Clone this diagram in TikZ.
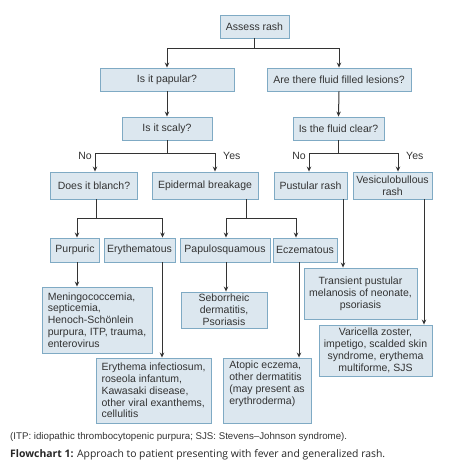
\documentclass[tikz,border=0pt]{standalone}
\usepackage{fontspec}
\setmainfont{Liberation Sans}
\newfontfamily\capfont{Open Sans}
\usetikzlibrary{arrows.meta}
\definecolor{boxfill}{HTML}{DCE7EF}
\definecolor{boxline}{HTML}{7FAAC4}
\definecolor{txt}{HTML}{333333}
\tikzset{
  box/.style={draw=boxline, fill=boxfill, line width=0.9pt, text=txt,
    font=\fontsize{10.5}{11.8}\selectfont, inner xsep=3pt, inner ysep=2pt},
  arr/.style={draw=txt, line width=1pt, -{Stealth[length=5pt,width=4.5pt]}},
  lab/.style={text=txt, font=\fontsize{10.5}{12}\selectfont, inner sep=0pt}
}

\begin{document}
\begin{tikzpicture}[x=1pt,y=-1pt]
                \useasboundingbox (0,0) rectangle (474,466);

                \node[box, minimum width=69, minimum height=23] (assess) at (254.5,26.5) {Assess rash};
                \node[box, minimum width=134, minimum height=23] (papular) at (167,79.5) {Is it papular?};
                \node[box, minimum width=144, minimum height=23] (fluid) at (339,79.5) {Are there fluid filled lesions?};
                \node[box, minimum width=90, minimum height=23] (scaly) at (167,128.5) {Is it scaly?};
                \node[box, minimum width=91, minimum height=23] (clear) at (338.5,128.5) {Is the fluid clear?};

                \node[box, minimum width=87, minimum height=27] (blanch) at (94,185.5) {Does it blanch?};
                \node[box, minimum width=106, minimum height=27] (epid) at (205,185.5) {Epidermal breakage};
                \node[box, minimum width=73, minimum height=27] (pustular) at (310.5,185.5) {Pustular rash};
                \node[box, minimum width=79, minimum height=27, align=center] (vesic) at (392.5,185.5) {Vesiculobullous\\rash};

                \node[box, minimum width=49, minimum height=24] (purpuric) at (75,250) {Purpuric};
                \node[box, minimum width=71, minimum height=24] (erythem) at (139.5,250) {Erythematous};
                \node[box, minimum width=90, minimum height=24] (papulo) at (225,250) {Papulosquamous};
                \node[box, minimum width=64, minimum height=24] (eczem) at (305,250) {Eczematous};

                \node[box, minimum width=110, minimum height=66, align=left] (mening) at (97,320) {Meningococcemia,\\septicemia,\\Henoch-Schönlein\\purpura, ITP, trauma,\\enterovirus};
                \node[box, minimum width=86, minimum height=36, align=center] (seb) at (224,310) {Seborrheic\\dermatitis,\\Psoriasis};
                \node[box, minimum width=113, minimum height=51, align=center] (trans) at (360.5,293.5) {Transient pustular\\melanosis of neonate,\\psoriasis};
                \node[box, minimum width=113, minimum height=51, align=center] (varic) at (375.5,350.5) {Varicella zoster,\\impetigo, scalded skin\\syndrome, erythema\\multiforme, SJS};
                \node[box, minimum width=115, minimum height=65, align=left] (eryinf) at (153.5,390.5) {Erythema infectiosum,\\roseola infantum,\\Kawasaki disease,\\other viral exanthems,\\cellulitis};
                \node[box, minimum width=88, minimum height=65, align=left] (atopic) at (267,390.5) {Atopic eczema,\\other dermatitis\\(may present as\\erythroderma)\\\strut};

                \node[lab, anchor=east] (no1) at (92,155.5) {No};
                \node[lab, anchor=west] (yes1) at (223,155.5) {Yes};
                \node[lab, anchor=east] (no2) at (306,155.5) {No};
                \node[lab, anchor=west] (yes2) at (406,155.5) {Yes};

                \draw[arr] (assess.south) -- ++(0,10.5) -| (papular.north);
                \draw[arr] (assess.south) -- ++(0,10.5) -| (fluid.north);
                \draw[arr] (papular.south) -- (scaly.north);
                \draw[arr] (fluid.south) -- (clear.north);

                \draw[arr] (scaly.south) -- ++(0,13) -| ([xshift=1pt]blanch.north);
                \draw[arr] (scaly.south) -- ++(0,13) -| ([xshift=10pt]epid.north);
                \draw[arr] (clear.south) -- ++(0,13) -| ([xshift=-1.5pt]pustular.north);
                \draw[arr] (clear.south) -- ++(0,13) -| ([xshift=5.5pt]vesic.north);

                \draw[arr] ([xshift=2pt]blanch.south) -- ++(0,19) -| ([xshift=2pt]purpuric.north);
                \draw[arr] ([xshift=2pt]blanch.south) -- ++(0,19) -| ([xshift=23pt]erythem.north);
                \draw[arr] ([xshift=41pt]epid.south) -- ++(0,19) -| ([xshift=1pt]papulo.north);
                \draw[arr] ([xshift=41pt]epid.south) -- ++(0,19) -| ([xshift=-9pt]eczem.north);

                \draw[arr] ([xshift=2pt]purpuric.south) -- ([xshift=2pt]purpuric.south |- mening.north);
                \draw[arr] ([xshift=22.5pt]erythem.south) -- ([xshift=22.5pt]erythem.south |- eryinf.north);
                \draw[arr] ([xshift=1pt]papulo.south) -- ([xshift=1pt]papulo.south |- seb.north);
                \draw[arr] ([xshift=-6pt]eczem.south) -- ([xshift=-6pt]eczem.south |- atopic.north);
                \draw[arr] ([xshift=32.5pt]pustular.south) -- ([xshift=32.5pt]pustular.south |- trans.north);
                \draw[arr] ([xshift=31.5pt]vesic.south) -- ([xshift=31.5pt]vesic.south |- varic.north);

                \node[anchor=west, inner sep=0pt, text=txt, font=\fontsize{9.7}{11}\selectfont] (note) at (10,437) {(ITP: idiopathic thrombocytopenic purpura; SJS: Stevens–Johnson syndrome).};
                \node[anchor=west, inner sep=0pt, text=black!85, font=\capfont\fontsize{10.4}{12}\selectfont] (cap) at (10,455) {\textbf{Flowchart 1:} Approach to patient presenting with fever and generalized rash.};
            \end{tikzpicture}
\end{document}
